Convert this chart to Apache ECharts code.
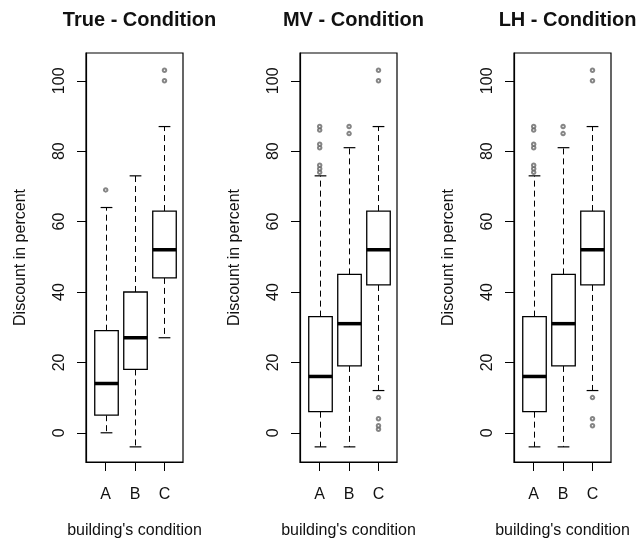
<!DOCTYPE html>
<html>
<head>
<meta charset="utf-8">
<script src="https://cdn.jsdelivr.net/npm/echarts@6.0.0/dist/echarts.min.js"></script>
<style>
html, body { margin: 0; padding: 0; background: #fff; }
#main { width: 641px; height: 544px; }
</style>
</head>
<body>
<div id="main"></div>
<script>
var categories = ["A", "B", "C"];
var panelTitles = ["True - Condition", "MV - Condition", "LH - Condition"];
var yTicks = [0, 20, 40, 60, 80, 100];

// [lower whisker, Q1, median, Q3, upper whisker] for A, B, C
var trueStats = [[0, 5, 14, 29, 64], [-4, 18, 27, 40, 73], [27, 44, 52, 63, 87]];
var trueOutliers = [[69], [], [100, 103]];

var mvStats = [[-4, 6, 16, 33, 73], [-4, 19, 31, 45, 81], [12, 42, 52, 63, 87]];
var mvOutliers = [[74, 75, 76, 81, 82, 86, 87], [85, 87], [1, 2, 4, 10, 100, 103]];

var lhStats = [[-4, 6, 16, 33, 73], [-4, 19, 31, 45, 81], [12, 42, 52, 63, 87]];
var lhOutliers = [[74, 75, 76, 81, 82, 86, 87], [85, 87], [2, 4, 10, 100, 103]];

var panelStats = [trueStats, mvStats, lhStats];
var panelOutliers = [trueOutliers, mvOutliers, lhOutliers];
var gridLefts = [86, 300, 514];

var font = "'Liberation Sans', Arial, sans-serif";

function renderBox(params, api) {
    var x = api.value(0);
    var lo = api.coord([x, api.value(1)]);
    var q1 = api.coord([x, api.value(2)]);
    var med = api.coord([x, api.value(3)]);
    var q3 = api.coord([x, api.value(4)]);
    var hi = api.coord([x, api.value(5)]);
    var half = api.size([0.8, 0])[0] / 2;
    var cx = Math.round(lo[0]) + 0.5;
    var dash = { stroke: "#000", lineWidth: 1, lineDash: [6, 4] };
    var solid = { stroke: "#000", lineWidth: 1.2 };
    return {
        type: "group",
        children: [
            { type: "line", shape: { x1: cx, y1: q3[1], x2: cx, y2: hi[1] }, style: dash },
            { type: "line", shape: { x1: cx, y1: q1[1], x2: cx, y2: lo[1] }, style: dash },
            { type: "line", shape: { x1: cx - half / 2, y1: hi[1], x2: cx + half / 2, y2: hi[1] }, style: solid },
            { type: "line", shape: { x1: cx - half / 2, y1: lo[1], x2: cx + half / 2, y2: lo[1] }, style: solid },
            {
                type: "rect",
                shape: { x: cx - half, y: q3[1], width: half * 2, height: q1[1] - q3[1] },
                style: { fill: "#fff", stroke: "#000", lineWidth: 1.3 }
            },
            { type: "line", shape: { x1: cx - half, y1: med[1], x2: cx + half, y2: med[1] }, style: { stroke: "#000", lineWidth: 3.5 } }
        ]
    };
}

var grids = [], xAxes = [], yAxes = [], series = [], titles = [];

for (var p = 0; p < 3; p++) {
    grids.push({
        left: gridLefts[p], top: 53, width: 97, height: 412,
        show: true, borderColor: "#000", borderWidth: 1.2, backgroundColor: "transparent"
    });
    titles.push({
        text: panelTitles[p],
        left: gridLefts[p] + 48.5,
        textAlign: "center",
        top: 5,
        textStyle: { fontFamily: font, fontSize: 20, fontWeight: "bold", color: "#111" }
    });
    xAxes.push({
        type: "value", gridIndex: p, min: 0.33, max: 3.63,
        name: "building's condition", nameLocation: "middle", nameGap: 61,
        nameTextStyle: { fontFamily: font, fontSize: 16, color: "#111" },
        axisLine: { show: true, onZero: false, lineStyle: { color: "#000", width: 1.2 } },
        axisTick: { show: true, length: 9, customValues: [1, 2, 3], lineStyle: { color: "#000" } },
        axisLabel: {
            customValues: [1, 2, 3], margin: 25,
            fontFamily: font, fontSize: 16, color: "#111",
            formatter: function (v) { return categories[Math.round(v) - 1]; }
        },
        splitLine: { show: false }
    });
    yAxes.push({
        type: "value", gridIndex: p, min: -8.3, max: 107.9,
        name: "Discount in percent", nameLocation: "middle", nameGap: 57,
        nameTextStyle: { fontFamily: font, fontSize: 16, color: "#111" },
        axisLine: { show: true, lineStyle: { color: "#000", width: 1.2 } },
        axisTick: { show: true, length: 9, customValues: yTicks, lineStyle: { color: "#000" } },
        axisLabel: {
            customValues: yTicks, rotate: 90, margin: 18,
            fontFamily: font, fontSize: 16, color: "#111"
        },
        splitLine: { show: false }
    });

    var boxData = panelStats[p].map(function (s, i) {
        return [i + 1].concat(s);
    });
    var outData = [];
    panelOutliers[p].forEach(function (list, i) {
        list.forEach(function (v) { outData.push([i + 1, v]); });
    });

    series.push({
        type: "custom", xAxisIndex: p, yAxisIndex: p,
        renderItem: renderBox,
        encode: { x: 0, y: [1, 2, 3, 4, 5] },
        data: boxData,
        silent: true
    });
    series.push({
        type: "scatter", xAxisIndex: p, yAxisIndex: p,
        symbol: "emptyCircle", symbolSize: 3.5,
        itemStyle: { color: "#666", borderColor: "#666", borderWidth: 1 },
        data: outData,
        silent: true
    });
}

var chart = echarts.init(document.getElementById("main"));
chart.setOption({
    animation: false,
    backgroundColor: "#fff",
    title: titles,
    grid: grids,
    xAxis: xAxes,
    yAxis: yAxes,
    series: series
});
</script>
</body>
</html>
